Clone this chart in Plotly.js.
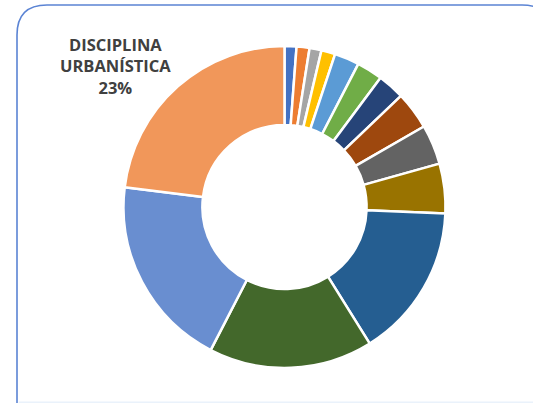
<!DOCTYPE html>
<html>
<head>
<meta charset="utf-8">
<script src="https://cdn.plot.ly/plotly-3.0.1.min.js"></script>
<style>html,body{margin:0;padding:0;background:#fff;}#chart{width:533px;height:403px;}</style>
</head>
<body>
<div id="chart"></div>
<script>
// Data (percent shares)
var labels = ["Categoría 1","Categoría 2","Categoría 3","Categoría 4","Categoría 5","Categoría 6","Categoría 7","Categoría 8","Categoría 9","Categoría 10","Categoría 11","Categoría 12","Categoría 13","Disciplina Urbanística"];
var values = [1.2, 1.3, 1.2, 1.4, 2.5, 2.6, 2.7, 3.8, 4.0, 5.0, 15.5, 16.5, 19.4, 23.1];
var colors = ["#4472C4","#ED7D31","#A5A5A5","#FFC000","#5B9BD5","#70AD47","#264478","#9E480E","#636363","#997300","#255E91","#43682B","#698ED0","#F1975A"];
var labelledIndex = 13;

var total = values.reduce(function(a,b){return a+b;},0);
var labelText = labels[labelledIndex].toUpperCase().replace(" ", "<br>") + "<br>" + Math.round(values[labelledIndex]/total*100) + "%";

// pie placement: centre (284.5, 207) px, radius 161 px
var cx = 284.5, cy = 207, R = 161, W = 533, H = 403;

var trace = {
  type: "pie",
  labels: labels,
  values: values,
  sort: false,
  direction: "clockwise",
  rotation: 0,
  hole: 0.51,
  textinfo: "none",
  marker: {colors: colors, line: {color: "#FFFFFF", width: 2.5}},
  domain: {x: [(cx-R)/W, (cx+R)/W], y: [(H-cy-R)/H, (H-cy+R)/H]},
  showlegend: false
};

var layout = {
  width: W, height: H,
  margin: {l:0, r:0, t:0, b:0},
  paper_bgcolor: "#FFFFFF",
  showlegend: false,
  shapes: [
    {type: "path", xsizemode: "pixel", ysizemode: "pixel", xref: "paper", yref: "paper",
     xanchor: 0, yanchor: 1,
     path: "M 17 -410 L 17 -35 Q 17 -5 47 -5 L 522 -5 Q 552 -5 552 -35 L 552 -410",
     line: {color: "#5B84D4", width: 1.6}, layer: "below"},
    {type: "rect", xref: "paper", yref: "paper", x0: 0.035, x1: 1, y0: 0, y1: 0.004,
     fillcolor: "#EAF2FB", line: {width: 0}, layer: "below"}
  ],
  annotations: [{
    xref: "paper", yref: "paper",
    x: 115/W, y: 1 - 66/H,
    xanchor: "center", yanchor: "middle",
    text: "<b>" + labelText + "</b>",
    showarrow: false,
    align: "center",
    font: {family: "'Open Sans', sans-serif", size: 16.5, color: "#404040"}
  }]
};

Plotly.newPlot("chart", [trace], layout, {displayModeBar: false, staticPlot: true});
</script>
</body>
</html>
